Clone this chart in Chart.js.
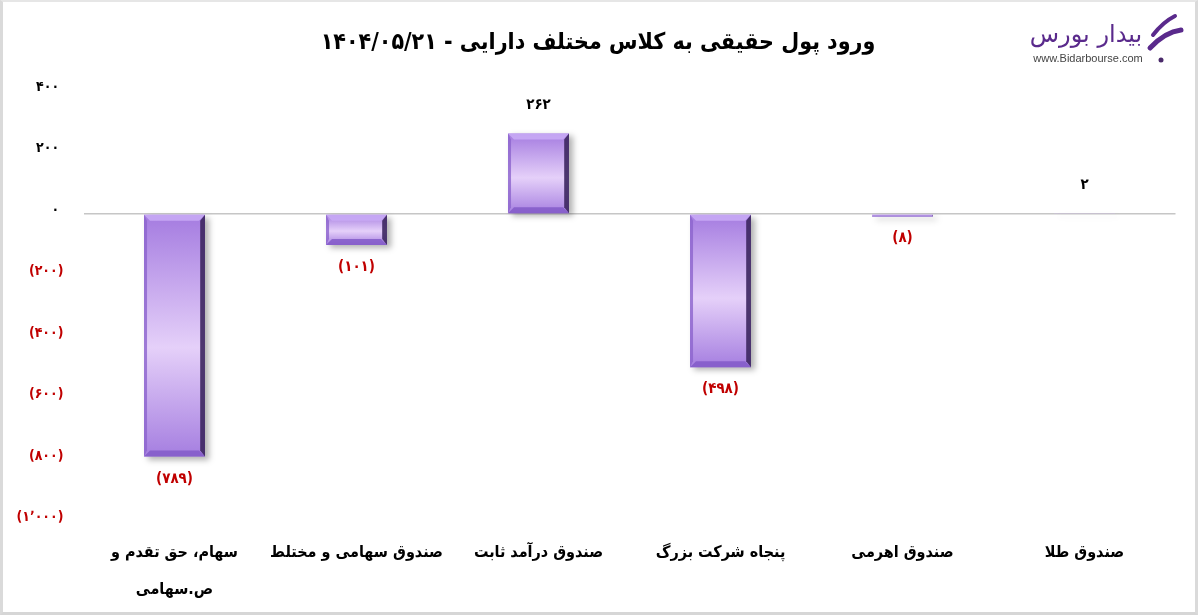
<!DOCTYPE html>
<html>
<head>
<meta charset="utf-8">
<script src="https://cdn.jsdelivr.net/npm/chart.js@4.4.0/dist/chart.umd.min.js"></script>
<style>
    html, body { margin: 0; padding: 0; background: #fff; }
    #wrap {
        position: relative; width: 1198px; height: 615px; box-sizing: border-box;
        border-left: 3px solid #dadada; border-top: 2px solid #e6e6e6;
        border-right: 3px solid #dadada; border-bottom: 3px solid #d6d6d6;
    }
</style>
</head>
<body>
<div id="wrap"><canvas id="myChart"></canvas></div>
<script>
// Données du graphique
const chartTitle = 'ورود پول حقیقی به کلاس مختلف دارایی - ۱۴۰۴/۰۵/۲۱';
const categories = [['سهام، حق تقدم و', 'ص.سهامی'], 'صندوق سهامی و مختلط', 'صندوق درآمد ثابت', 'پنجاه شرکت بزرگ', 'صندوق اهرمی', 'صندوق طلا'];
const inflows = [-789, -101, 262, -498, -8, 2];
const yTicks = [400, 200, 0, -200, -400, -600, -800, -1000];

const FA = '"DejaVu Sans Condensed", "DejaVu Sans", sans-serif';
const RED = '#c00000';
const faDigits = '۰۱۲۳۴۵۶۷۸۹';

// Nombres en chiffres persans, négatifs entre parenthèses
function fmt(v, pad) {
    const s = Math.abs(v).toLocaleString('en-US').replace(/\d/g, d => faDigits[d]).replace(/,/g, '٬');
    if (v < 0) return '(' + s + ')';
    return pad ? s + ' ' : s;
}

// Dégradé vertical des barres (clair au milieu)
function barFill(c) {
    const y = c.chart.scales.y;
    if (!y || c.raw === undefined) return '#b793ea';
    const a = y.getPixelForValue(c.raw), b = y.getPixelForValue(0);
    if (!isFinite(a) || !isFinite(b)) return '#b793ea';
    const top = Math.min(a, b), bot = Math.max(a, b);
    if (bot - top < 1) return '#cdb8ee';
    const g = c.chart.ctx.createLinearGradient(0, top, 0, bot);
    g.addColorStop(0, '#a47be0');
    g.addColorStop(0.55, '#e5d0f9');
    g.addColorStop(1, '#a57ee0');
    return g;
}

const barShadow = {
    id: 'barShadow',
    beforeDatasetsDraw(chart) {
        const ctx = chart.ctx;
        ctx.save();
        ctx.shadowColor = 'rgba(0,0,0,0.3)';
        ctx.shadowBlur = 6;
        ctx.shadowOffsetX = 4;
        ctx.shadowOffsetY = 3;
    },
    afterDatasetsDraw(chart) {
        chart.ctx.restore();
    }
};

// Effet biseau sur les bords des barres
const barBevel = {
    id: 'barBevel',
    afterDatasetsDraw(chart) {
        const ctx = chart.ctx;
        chart.getDatasetMeta(0).data.forEach(bar => {
            const p = bar.getProps(['x', 'y', 'base', 'width'], true);
            const l = p.x - p.width / 2, r = p.x + p.width / 2;
            const t = Math.min(p.y, p.base), btm = Math.max(p.y, p.base);
            const b = Math.min(6, (btm - t) / 2);
            if (b < 0.5) return;
            const poly = (pts, col) => {
                ctx.beginPath();
                ctx.moveTo(pts[0][0], pts[0][1]);
                pts.slice(1).forEach(q => ctx.lineTo(q[0], q[1]));
                ctx.closePath();
                ctx.fillStyle = col;
                ctx.fill();
            };
            ctx.save();
            poly([[l, t], [r, t], [r - b, t + b], [l + b, t + b]], 'rgba(200,170,245,0.9)');
            poly([[l, btm], [r, btm], [r - b, btm - b], [l + b, btm - b]], 'rgba(130,90,200,0.85)');
            poly([[l, t], [l + b * 0.5, t + b], [l + b * 0.5, btm - b], [l, btm]], 'rgba(140,100,205,0.8)');
            poly([[r, t], [r - b * 0.8, t + b], [r - b * 0.8, btm - b], [r, btm]], 'rgba(60,38,95,0.9)');
            ctx.restore();
        });
    }
};

// Étiquettes de valeurs au-dessus / en dessous des barres
const valueLabels = {
    id: 'valueLabels',
    afterDatasetsDraw(chart) {
        const ctx = chart.ctx;
        ctx.save();
        ctx.font = 'bold 15px ' + FA;
        ctx.letterSpacing = '1.5px';
        ctx.textAlign = 'center';
        ctx.textBaseline = 'middle';
        chart.getDatasetMeta(0).data.forEach((bar, i) => {
            const v = inflows[i];
            if (v >= 0) {
                ctx.fillStyle = '#000';
                ctx.fillText(fmt(v), bar.x, bar.y - 28);
            } else {
                ctx.fillStyle = RED;
                ctx.fillText(fmt(v), bar.x, bar.y + 22);
            }
        });
        ctx.restore();
    }
};

// Titre et logo
const titleAndLogo = {
    id: 'titleAndLogo',
    afterDraw(chart) {
        const ctx = chart.ctx;
        ctx.save();
        ctx.fillStyle = '#000';
        ctx.textAlign = 'center';
        ctx.textBaseline = 'middle';
        ctx.font = 'bold 23px ' + FA;
        ctx.fillText(chartTitle, 595, 41);

        ctx.fillStyle = '#5a2a8c';
        ctx.font = '24px "DejaVu Sans", sans-serif';
        ctx.fillText('بیدار بورس', 1083, 34);
        ctx.fillStyle = '#444';
        ctx.font = '11px "Liberation Sans", Arial, sans-serif';
        ctx.fillText('www.Bidarbourse.com', 1085, 57);
        ctx.fillStyle = '#4a2a6a';
        ctx.beginPath();
        ctx.arc(1158, 58, 2.5, 0, Math.PI * 2);
        ctx.fill();

        ctx.strokeStyle = '#5a2a8c';
        ctx.lineCap = 'round';
        ctx.lineWidth = 5;
        ctx.beginPath();
        ctx.moveTo(1147, 46);
        ctx.quadraticCurveTo(1162, 30, 1178, 28);
        ctx.stroke();
        ctx.lineWidth = 4;
        ctx.beginPath();
        ctx.moveTo(1150, 33);
        ctx.quadraticCurveTo(1160, 20, 1172, 14);
        ctx.stroke();
        ctx.restore();
    }
};

const ctx = document.getElementById('myChart').getContext('2d');
let myChart = new Chart(ctx, {
    type: 'bar',
    data: {
        labels: categories,
        datasets: [{
            data: inflows,
            backgroundColor: barFill,
            borderWidth: 0,
            barPercentage: 0.335,
            categoryPercentage: 1
        }]
    },
    options: {
        responsive: true,
        maintainAspectRatio: false,
        animation: false,
        layout: { padding: { top: 89, right: 19.5, left: 0, bottom: 0 } },
        plugins: {
            legend: { display: false },
            tooltip: { enabled: false },
            title: { display: false }
        },
        scales: {
            x: {
                grid: { display: false },
                border: { display: false },
                ticks: {
                    color: '#000',
                    font: { family: FA, size: 16, weight: 'bold', lineHeight: 2.3 },
                    padding: 5,
                    maxRotation: 0,
                    autoSkip: false
                },
                afterFit: s => { s.height = 90.5; }
            },
            y: {
                min: -1000,
                max: 400,
                afterBuildTicks: s => { s.ticks = yTicks.map(v => ({ value: v })); },
                ticks: {
                    callback: v => fmt(v, true),
                    color: c => (c.tick && c.tick.value < 0) ? RED : '#000',
                    font: { family: FA, size: 14, weight: 'bold' },
                    padding: 20,
                    labelOffset: -4
                },
                grid: {
                    color: c => (c.tick && c.tick.value === 0) ? '#c6c6c6' : 'rgba(0,0,0,0)',
                    lineWidth: 1.5,
                    drawTicks: false
                },
                border: { display: false },
                afterFit: s => { s.width = 80.5; }
            }
        }
    },
    plugins: [barShadow, barBevel, valueLabels, titleAndLogo]
});
</script>
</body>
</html>
